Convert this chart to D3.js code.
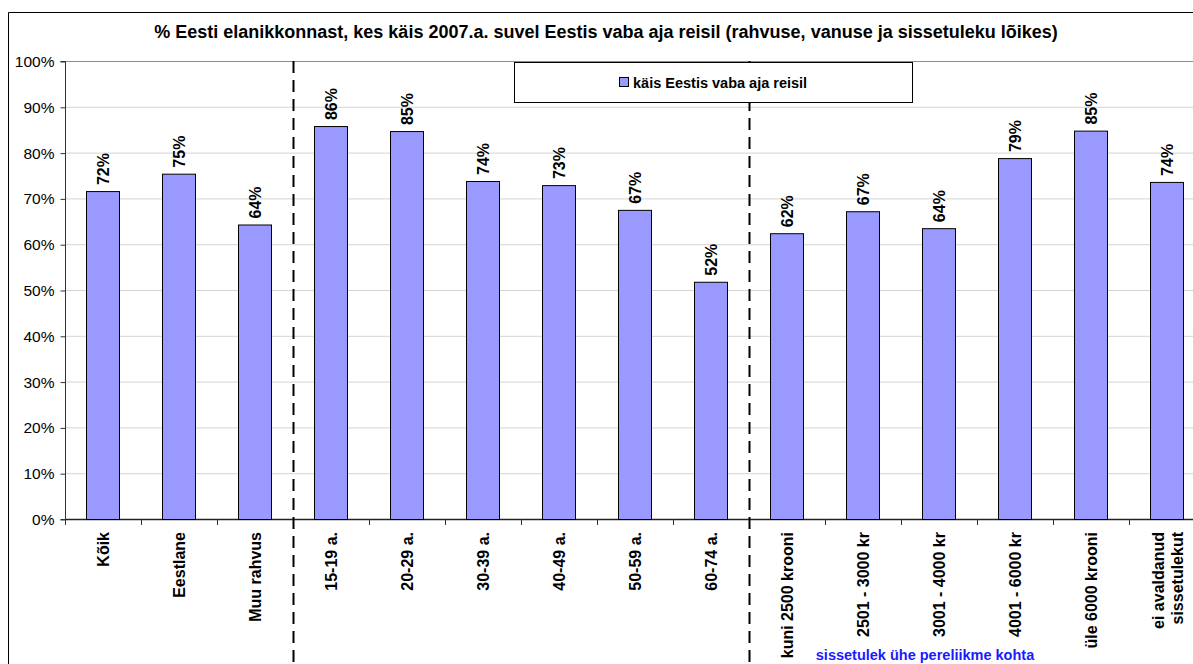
<!DOCTYPE html>
<html>
<head>
<meta charset="utf-8">
<script src="https://cdn.jsdelivr.net/npm/d3@7"></script>
<style>
  body { margin: 0; background: #fff; }
  svg { font-family: "Liberation Sans", Arial, sans-serif; }
</style>
</head>
<body>
<div id="chart"></div>
<script>
var categories = ['Kõik', 'Eestlane', 'Muu rahvus', '15-19 a.', '20-29 a.', '30-39 a.', '40-49 a.',
  '50-59 a.', '60-74 a.', 'kuni 2500 krooni', '2501 - 3000 kr', '3001 - 4000 kr', '4001 - 6000 kr',
  'üle 6000 krooni', 'ei avaldanud sissetulekut'];
var values = [71.6, 75.4, 64.3, 85.8, 84.7, 73.8, 72.9, 67.5, 51.8, 62.4, 67.2, 63.5, 78.8, 84.8, 73.6];
var valueLabels = ['72%', '75%', '64%', '86%', '85%', '74%', '73%', '67%', '52%', '62%', '67%', '64%', '79%', '85%', '74%'];
var yTicks = [0, 10, 20, 30, 40, 50, 60, 70, 80, 90, 100];
var groupBreaks = [3, 9];

var W = 1193, H = 664;
var svg = d3.select('#chart').append('svg').attr('width', W).attr('height', H);

// outer frame (runs off the right and bottom edge)
svg.append('path').attr('d', 'M8.5,700 V12.5 H1300')
  .attr('fill', 'none').attr('stroke', '#000').attr('stroke-width', 1);

svg.append('text').attr('x', 606).attr('y', 38).attr('text-anchor', 'middle')
  .attr('font-size', 18).attr('font-weight', 'bold')
  .text('% Eesti elanikkonnast, kes käis 2007.a. suvel Eestis vaba aja reisil (rahvuse, vanuse ja sissetuleku lõikes)');

var plotLeft = 65, plotTop = 61, plotBottom = 519, band = 76;
var x = d3.scaleBand().domain(d3.range(categories.length))
  .range([plotLeft, plotLeft + band * categories.length]).padding(0);
var y = d3.scaleLinear().domain([0, 100]).range([plotBottom, plotTop]);

// grid
svg.append('g').selectAll('line').data(yTicks.slice(1, -1)).join('line')
  .attr('x1', plotLeft).attr('x2', W).attr('y1', d => y(d) + 0.5).attr('y2', d => y(d) + 0.5)
  .attr('stroke', '#d4d4d4');
svg.append('line').attr('x1', plotLeft).attr('x2', W).attr('y1', plotTop + 0.5).attr('y2', plotTop + 0.5)
  .attr('stroke', '#8c8c8c');

// y axis
var yAxis = d3.axisLeft(y).tickValues(yTicks).tickFormat(d => d + '%').tickSize(5).tickPadding(6);
var gy = svg.append('g').attr('transform', 'translate(' + (plotLeft + 0.5) + ',0.5)').call(yAxis);
gy.select('.domain').attr('stroke', '#333').attr('d', 'M-5,' + plotTop + 'H0V' + plotBottom + 'H-5');
gy.selectAll('.tick line').attr('stroke', '#333');
gy.selectAll('text').attr('font-size', 15.5).attr('fill', '#000')
  .attr('font-family', '"Liberation Sans", Arial, sans-serif');

// x axis
var xTicks = d3.range(categories.length + 1).map(i => plotLeft + i * band);
svg.append('line').attr('x1', plotLeft).attr('x2', W).attr('y1', plotBottom + 0.5).attr('y2', plotBottom + 0.5)
  .attr('stroke', '#222').attr('stroke-width', 1.5);
svg.append('g').selectAll('line').data(xTicks).join('line')
  .attr('x1', d => d + 0.5).attr('x2', d => d + 0.5).attr('y1', plotBottom).attr('y2', plotBottom + 6)
  .attr('stroke', '#333');

// bars
var barW = 33, barOff = 21;
svg.append('g').selectAll('rect').data(values).join('rect')
  .attr('x', (d, i) => x(i) + barOff + 0.5).attr('y', d => y(d) + 0.5)
  .attr('width', barW).attr('height', d => plotBottom - y(d))
  .attr('fill', '#9999ff').attr('stroke', '#000').attr('stroke-width', 1);

// value labels
svg.append('g').selectAll('text').data(values).join('text')
  .attr('transform', (d, i) => 'translate(' + (x(i) + barOff + barW / 2 + 6) + ',' + (y(d) - 6) + ') rotate(-90)')
  .attr('font-size', 16).attr('font-weight', 'bold')
  .text((d, i) => valueLabels[i]);

// category labels
svg.append('g').selectAll('text').data(categories).join('text')
  .attr('transform', (d, i) => 'translate(' + (x(i) + band / 2 + 6) + ',' + (plotBottom + 13) + ') rotate(-90)')
  .attr('text-anchor', 'end').attr('font-size', 16).attr('font-weight', 'bold')
  .each(function (d) {
    var t = d3.select(this);
    if (d === 'ei avaldanud sissetulekut') {
      t.append('tspan').attr('x', 0).attr('dy', -9).text('ei avaldanud');
      t.append('tspan').attr('x', 0).attr('dy', 19).text('sissetulekut');
    } else {
      t.text(d);
    }
  });

// dashed group separators
svg.append('g').selectAll('line').data(groupBreaks).join('line')
  .attr('x1', d => x(d) + 0.5).attr('x2', d => x(d) + 0.5).attr('y1', plotTop).attr('y2', H)
  .attr('stroke', '#000').attr('stroke-width', 2).attr('stroke-dasharray', '12,7');

// legend
svg.append('rect').attr('x', 514.5).attr('y', 62.5).attr('width', 398).attr('height', 40)
  .attr('fill', '#fff').attr('stroke', '#000');
svg.append('rect').attr('x', 619.5).attr('y', 77.5).attr('width', 9).attr('height', 9)
  .attr('fill', '#9999ff').attr('stroke', '#000');
svg.append('text').attr('x', 633).attr('y', 87.5).attr('font-size', 14.5).attr('font-weight', 'bold')
  .text('käis Eestis vaba aja reisil');

svg.append('text').attr('x', 925).attr('y', 660).attr('text-anchor', 'middle')
  .attr('font-size', 14.5).attr('font-weight', 'bold').attr('fill', '#1a1aff')
  .text('sissetulek ühe pereliikme kohta');
</script>
</body>
</html>
